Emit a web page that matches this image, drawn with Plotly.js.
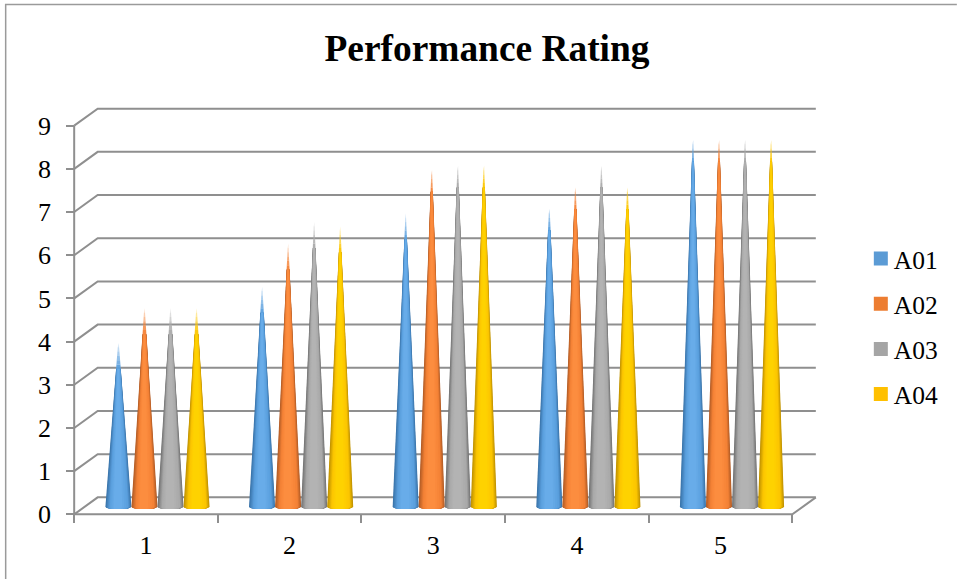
<!DOCTYPE html>
<html>
<head>
<meta charset="utf-8">
<script src="https://cdn.plot.ly/plotly-3.0.1.min.js"></script>
<style>html,body{margin:0;padding:0;background:#fff;overflow:hidden}#chart{width:957px;height:579px}</style>
</head>
<body>
<div id="chart"></div>
<script>
// Performance ratings per round and assessor
const categories = [1, 2, 3, 4, 5];
const seriesNames = ['A01', 'A02', 'A03', 'A04'];
const a01 = [3.9, 5.2, 6.9, 7.1, 8.7];
const a02 = [4.7, 6.2, 8.0, 7.6, 8.7];
const a03 = [4.7, 6.7, 8.1, 8.1, 8.7];
const a04 = [4.7, 6.6, 8.1, 7.6, 8.7];
const seriesValues = [a01, a02, a03, a04];
const yTicks = [0, 1, 2, 3, 4, 5, 6, 7, 8, 9];

const swatches = ['#5b9bd5', '#ed7d31', '#a5a5a5', '#ffc000'];
const edgeRgb = [[58, 116, 170], [178, 92, 38], [116, 116, 116], [192, 146, 0]];
const mainRgb = [[91, 160, 222], [244, 130, 54], [170, 170, 170], [252, 198, 0]];
const glowRgb = [[108, 176, 236], [255, 144, 66], [182, 182, 182], [255, 214, 0]];

// Oblique depth of the pseudo-3D box, in axis units
const depthX = 0.1636, depthY = 0.394;
const xMin = 0.5, xMax = 5.5, yMax = 9;
const gridGray = '#8f8f8f';

// Spare room around the box so its outermost lines are not cut by the plot edge
const padX = 0.05, padY = 0.2;
const pxPerX = 143.6, pxPerY = 43.11;

// Cone placement within a category
const coneStep = 0.1813, coneHalf = 0.0907, coneShift = 0.08;
const baseY = 0.17, baseArc = 0.048, tipFade = 0.7, tipSteps = 7;

const traces = [];
const rgb = c => 'rgb(' + c.map(Math.round).join(',') + ')';
const rgba = (c, a) => 'rgba(' + c.join(',') + ',' + a.toFixed(3) + ')';
const mix = (a, b, t) => a.map((v, i) => v + (b[i] - v) * t);

// Back-wall gridlines with their slanted side-wall returns
yTicks.forEach(v => {
  traces.push({
    x: [xMin, xMin + depthX, xMax + depthX],
    y: [v, v + depthY, v + depthY],
    mode: 'lines', line: {color: gridGray, width: 2},
    showlegend: false, hoverinfo: 'skip'
  });
});
// Floor outline and the two front axis lines
traces.push({
  x: [xMin, xMax, xMax + depthX],
  y: [0, 0, depthY],
  mode: 'lines', line: {color: gridGray, width: 2},
  showlegend: false, hoverinfo: 'skip'
});
traces.push({
  x: [xMin, xMin],
  y: [0, yMax],
  mode: 'lines', line: {color: gridGray, width: 2},
  showlegend: false, hoverinfo: 'skip'
});

// Shading of a cone as nested slivers sharing one apex: dark rim, then body, then a soft highlight
const layerSpans = [];
for (let k = 0; k < 7; k++) {
  const f = k / 7;
  layerSpans.push({lo: f * 0.17, hi: 1 - f * 0.13, tone: 'rim', t: f});
}
for (let k = 0; k < 4; k++) {
  const f = k / 4;
  layerSpans.push({lo: 0.17 + f * 0.2, hi: 0.87 - f * 0.3, tone: 'glow', t: f});
}

function addCone(cx, value, s) {
  const tipY = baseY + value;
  const neckY = tipY - tipFade;
  const halfAt = y => coneHalf * (tipY - y) / value;
  const neckHalf = halfAt(neckY);
  layerSpans.forEach(layer => {
    const at = (frac, half) => cx + half * (2 * frac - 1);
    const xs = [at(layer.lo, coneHalf), at(layer.lo, neckHalf), at(layer.hi, neckHalf), at(layer.hi, coneHalf)];
    const ys = [baseY, neckY, neckY, baseY];
    // Elliptical foot of this sliver
    for (let i = 1; i <= 10; i++) {
      const frac = layer.hi + (layer.lo - layer.hi) * i / 10;
      const u = 2 * frac - 1;
      xs.push(cx + coneHalf * u);
      ys.push(baseY - baseArc * Math.sqrt(Math.max(0, 1 - u * u)));
    }
    const color = layer.tone === 'rim'
      ? mix(edgeRgb[s], mainRgb[s], layer.t)
      : mix(mainRgb[s], glowRgb[s], layer.t);
    traces.push({
      x: xs, y: ys, mode: 'lines', line: {width: 0}, fill: 'toself', fillcolor: rgb(color),
      showlegend: false, hoverinfo: 'skip'
    });
  });
  // The apex fades out against the wall in short translucent steps
  for (let i = 0; i < tipSteps; i++) {
    const y0 = neckY + tipFade * i / tipSteps;
    const y1 = neckY + tipFade * (i + 1) / tipSteps;
    const h0 = halfAt(y0), h1 = halfAt(y1);
    traces.push({
      x: [cx - h0, cx - h1, cx + h1, cx + h0, cx - h0],
      y: [y0, y1, y1, y0, y0],
      mode: 'lines', line: {width: 0}, fill: 'toself',
      fillcolor: rgba(mainRgb[s], 0.95 - 0.85 * i / (tipSteps - 1)),
      showlegend: false, hoverinfo: 'skip'
    });
  }
}

seriesValues.forEach((vals, s) => {
  vals.forEach((v, c) => {
    addCone(categories[c] + coneShift + (s - 1.5) * coneStep, v, s);
  });
});

// Legend entries, each in its own group so the row spacing can be opened up
seriesNames.forEach((name, s) => {
  traces.push({
    x: [null], y: [null], name: name, mode: 'markers',
    legendgroup: name,
    marker: {symbol: 'square', size: 14, color: swatches[s]},
    hoverinfo: 'skip'
  });
});

const serif = '"Liberation Serif", "Times New Roman", serif';
const padLeftPx = padX * pxPerX, padPxY = padY * pxPerY;
const plotLeft = 74.5 - padLeftPx, plotRight = 816 + padLeftPx;
const plotTop = 109 - padPxY, plotBottom = 514 + padPxY;
const paperX = px => (px - plotLeft) / (plotRight - plotLeft);
const paperY = py => (plotBottom - py) / (plotBottom - plotTop);

const layout = {
  width: 957, height: 579,
  margin: {l: plotLeft, r: 957 - plotRight, t: plotTop, b: 579 - plotBottom, autoexpand: false},
  paper_bgcolor: '#fff', plot_bgcolor: 'rgba(0,0,0,0)',
  hovermode: false,
  font: {family: serif, color: '#000', size: 26},
  title: {
    text: '<b>Performance Rating</b>',
    font: {family: serif, size: 37.4, color: '#000'},
    x: 487 / 957, xref: 'container', xanchor: 'center',
    y: 1 - 48 / 579, yref: 'container', yanchor: 'middle'
  },
  xaxis: {
    range: [xMin - padX, xMax + depthX + padX], showgrid: false, zeroline: false, showline: false,
    anchor: 'free', position: paperY(514),
    tickmode: 'array', tickvals: categories, ticktext: categories.map(String),
    ticks: '', ticklabelstandoff: 13,
    tickfont: {family: serif, size: 26, color: '#000'},
    minor: {
      tickmode: 'array', tickvals: [0.5, 1.5, 2.5, 3.5, 4.5, 5.5],
      ticks: 'outside', ticklen: 8, tickwidth: 2, tickcolor: gridGray, showgrid: false
    }
  },
  yaxis: {
    range: [-padY, yMax + depthY + padY], showgrid: false, zeroline: false, showline: false,
    anchor: 'free', position: paperX(74.5),
    tickmode: 'array', tickvals: yTicks,
    ticks: 'outside', ticklen: 8, tickwidth: 2, tickcolor: gridGray,
    ticklabelstandoff: 10,
    tickfont: {family: serif, size: 26, color: '#000'}
  },
  legend: {
    x: paperX(861), y: paperY(326.5), xanchor: 'left', yanchor: 'middle',
    font: {family: serif, size: 25.5, color: '#000'},
    tracegroupgap: 9, bgcolor: 'rgba(0,0,0,0)'
  },
  shapes: [{
    type: 'path', xref: 'paper', yref: 'paper', layer: 'below',
    path: 'M ' + paperX(6) + ' ' + paperY(579) + ' L ' + paperX(6) + ' ' + paperY(5) + ' L ' + paperX(957) + ' ' + paperY(5),
    line: {color: '#9a9a9a', width: 1.5}
  }]
};

Plotly.newPlot('chart', traces, layout, {displayModeBar: false, staticPlot: true}).then(() => {
  // Pull the legend labels closer to their swatches
  document.querySelectorAll('#chart .legendtext').forEach(t => t.setAttribute('x', 33));
});
</script>
</body>
</html>
